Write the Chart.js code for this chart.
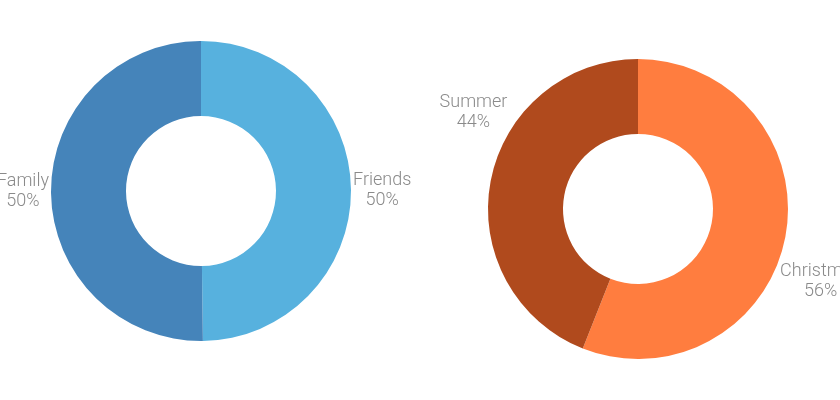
<!DOCTYPE html>
<html lang="en">
<head>
    <meta charset="UTF-8">
    <title>Donuts</title>
    <script src="https://cdn.jsdelivr.net/npm/chart.js"></script>
    <style>
        body { margin: 0; background: #fff; overflow: hidden; }
        .box { position: absolute; top: 0; width: 420px; height: 400px; }
        #box1 { left: 0; }
        #box2 { left: 420px; }
    </style>
</head>
<body>
    <div class="box" id="box1"><canvas id="donut1"></canvas></div>
    <div class="box" id="box2"><canvas id="donut2"></canvas></div>

<script>
    // dados do grafico da esquerda
    const labels1 = ['Friends', 'Family'];
    const valores1 = [49.8, 50.2];
    const cores1 = ['#57b1de', '#4584ba'];

    // dados do grafico da direita
    const labels2 = ['Christmas', 'Summer'];
    const valores2 = [56, 44];
    const cores2 = ['#ff7d3f', '#b04a1d'];

    // rotulos de fora: nome + porcentagem
    const rotulosFora = {
        id: 'rotulosFora',
        afterDraw(chart, args, opts) {
            const ctx = chart.ctx;
            const meta = chart.getDatasetMeta(0);
            const dados = chart.data.datasets[0].data;
            const total = dados.reduce((a, b) => a + b, 0);
            const giro = opts.giro || [];
            ctx.save();
            ctx.font = '300 18px Roboto, "Liberation Sans", sans-serif';
            ctx.fillStyle = '#8a8a8a';
            ctx.textAlign = 'center';
            ctx.textBaseline = 'middle';
            meta.data.forEach(function (arco, i) {
                const meio = (arco.startAngle + arco.endAngle) / 2 + (giro[i] || 0) * Math.PI / 180;
                const ux = Math.cos(meio);
                const uy = Math.sin(meio);
                const px = arco.x + (arco.outerRadius + 2) * ux;
                const py = arco.y + (arco.outerRadius + 2) * uy;
                const linha1 = chart.data.labels[i];
                const linha2 = Math.round(dados[i] / total * 100) + '%';
                const w = Math.max(ctx.measureText(linha1).width, ctx.measureText(linha2).width);
                const h = 38;
                const sx = Math.abs(ux) < 0.05 ? 0 : Math.sign(ux);
                const sy = Math.abs(uy) < 0.05 ? 0 : Math.sign(uy);
                const cx = px + sx * w / 2;
                const cy = py + sy * h / 2;
                ctx.fillText(linha1, cx, cy - 10);
                ctx.fillText(linha2, cx, cy + 10);
            });
            ctx.restore();
        }
    };

    function criarDonut(idCanvas, labels, valores, cores, padding, giro) {
        return new Chart(document.getElementById(idCanvas), {
            type: 'doughnut',
            data: {
                labels: labels,
                datasets: [{
                    data: valores,
                    backgroundColor: cores,
                    borderWidth: 0
                }]
            },
            options: {
                responsive: true,
                maintainAspectRatio: false,
                animation: false,
                cutout: '50%',
                layout: { padding: padding },
                plugins: {
                    legend: { display: false },
                    tooltip: { enabled: false },
                    rotulosFora: { giro: giro }
                }
            },
            plugins: [rotulosFora]
        });
    }

    criarDonut('donut1', labels1, valores1, cores1, { left: 51, right: 69, top: 41, bottom: 59 }, [0, 0]);
    criarDonut('donut2', labels2, valores2, cores2, { left: 68, right: 52, top: 59, bottom: 41 }, [10, 20]);
</script>
</body>
</html>
